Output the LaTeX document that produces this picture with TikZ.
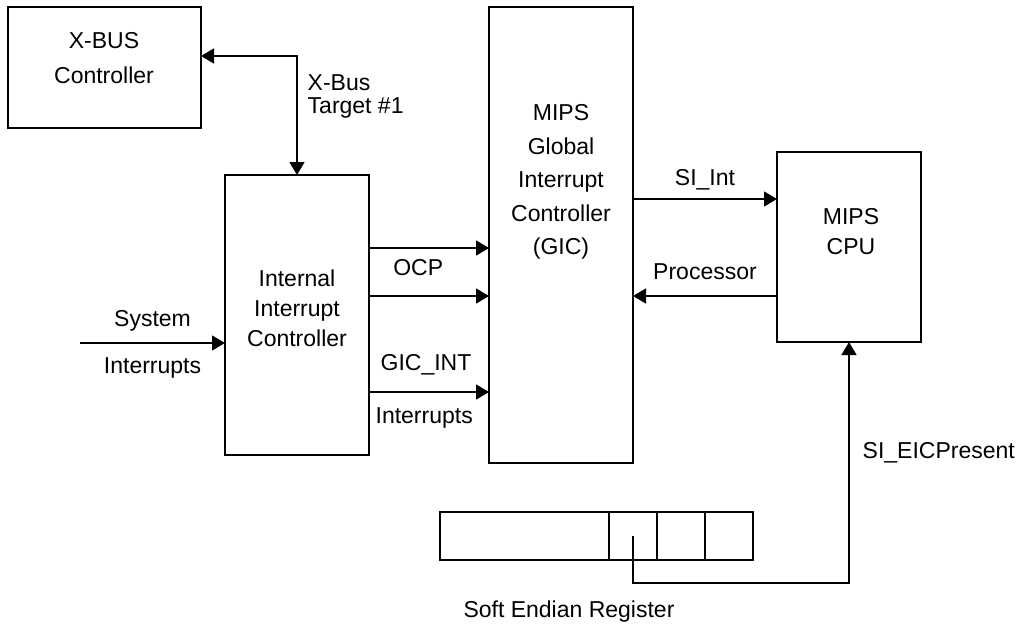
\documentclass[tikz,border=0pt]{standalone}
\usepackage{fontspec}
\setmainfont{Liberation Sans}
\usetikzlibrary{arrows.meta,positioning}
\tikzset{
  blk/.style={draw, line width=1.4pt, inner sep=0pt, outer sep=0pt},
  lbl/.style={inner sep=0pt, align=center},
  sig/.style={line width=1.4pt, -{Triangle[length=13pt,width=15pt]}},
  both/.style={line width=1.4pt, {Triangle[length=13pt,width=15pt]}-{Triangle[length=13pt,width=15pt]}},
}
\begin{document}
\begin{tikzpicture}[x=1pt, y=-1pt, font=\fontsize{23}{30}\selectfont]
\useasboundingbox (0,0) rectangle (1025,629);

% blocks
\node[blk, minimum width=193pt, minimum height=121pt] (xbus) at (104.5,67.5) {};
\node[blk, minimum width=144pt, minimum height=280pt] (iic) at (297,315) {};
\node[blk, minimum width=144pt, minimum height=456pt] (gic) at (561,235) {};
\node[blk, minimum width=144pt, minimum height=190pt] (cpu) at (849,247) {};

% block texts
\node[lbl, font=\fontsize{23}{35}\selectfont] (xbustxt) at (104,58.5) {X-BUS\\Controller};
\node[lbl] (iictxt) at (297,308) {Internal\\Interrupt\\Controller};
\node[lbl, font=\fontsize{23}{33.5}\selectfont] (gictxt) at (561,182) {MIPS\\Global\\Interrupt\\Controller\\(GIC)};
\node[lbl] (cputxt) at (851,232) {MIPS\\CPU};

% soft endian register
\node[blk, minimum width=169pt, minimum height=48pt] (reg0) at (524.5,536) {};
\node[blk, minimum width=48pt, minimum height=48pt, right=0pt of reg0] (reg1) {};
\node[blk, minimum width=48pt, minimum height=48pt, right=0pt of reg1] (reg2) {};
\node[blk, minimum width=48pt, minimum height=48pt, right=0pt of reg2] (reg3) {};
\node[lbl] (regname) at (569,612) {Soft Endian Register};

% x-bus
\draw[both] ([yshift=11.5pt]xbus.east) -| node[lbl, align=left, pos=0.67, anchor=west, xshift=10pt, font=\fontsize{23}{23}\selectfont] {X-Bus\\Target \#1} (iic.north);

% iic to gic
\path ([yshift=67pt]iic.east) coordinate (ocp1)
      ([yshift=19pt]iic.east) coordinate (ocp2)
      ([yshift=-77pt]iic.east) coordinate (gicint);
\draw[sig] (ocp1) -- node[lbl, pos=0.41, yshift=-20pt] {OCP} (ocp1 -| gic.west);
\draw[sig] (ocp2) -- (ocp2 -| gic.west);
\draw[sig] (gicint) -- node[lbl, pos=0.475, yshift=27pt] {GIC\_INT}
  node[lbl, pos=0.46, yshift=-26pt] {Interrupts} (gicint -| gic.west);

% gic and cpu
\path ([yshift=36pt]gic.east) coordinate (siint)
      ([yshift=-49pt]cpu.west) coordinate (proc);
\draw[sig] (siint) -- node[lbl, yshift=19pt] {SI\_Int} (siint -| cpu.west);
\draw[sig] (proc) -- node[lbl, yshift=24pt] {Processor} (proc -| gic.east);

% system interrupts
\coordinate (sysin) at (80,343);
\draw[sig] (sysin) -- node[lbl, yshift=22pt] {System}
  node[lbl, yshift=-25pt] {Interrupts} (sysin -| iic.west);

% endian bit
\draw[sig] (reg1.center) -- ++(0,47) -| node[lbl, pos=0.77, anchor=west, xshift=13pt] {SI\_EICPresent} (cpu.south);
\end{tikzpicture}
\end{document}
